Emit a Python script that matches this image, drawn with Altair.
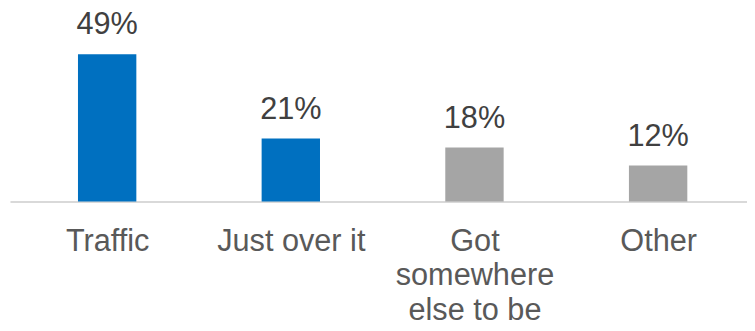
import json
import altair as alt
import pandas as pd

categories = ["Traffic", "Just over it", "Got\nsomewhere\nelse to be", "Other"]
values = [0.49, 0.21, 0.18, 0.12]
labels = ["49%", "21%", "18%", "12%"]
colors = ["#0070C0", "#0070C0", "#A5A5A5", "#A5A5A5"]

df = pd.DataFrame({"idx": list(range(len(categories))), "cat": categories,
                   "val": values, "lab": labels, "col": colors})

label_expr = "split(" + json.dumps(categories) + "[round(datum.value)], '\\n')"

x = alt.X("idx:Q",
          scale=alt.Scale(domain=[-0.5022, 3.457], nice=False, zero=False),
          axis=alt.Axis(title=None, values=list(range(len(categories))), labelAngle=0,
                        ticks=False, grid=False, domainColor="#D9D9D9",
                        domainWidth=2, labelFont="Liberation Sans", labelFontSize=31,
                        labelColor="#595959", labelPadding=25, labelLineHeight=35,
                        labelFlush=False, labelOverlap=False, labelBound=False,
                        labelExpr=label_expr))
y = alt.Y("val:Q", scale=alt.Scale(domain=[0, 0.6316]), axis=None)

bars = alt.Chart(df).mark_bar(size=59).encode(x=x, y=y, color=alt.Color("col:N", scale=None))
text = alt.Chart(df).mark_text(dy=-20, baseline="alphabetic", font="Liberation Sans",
                               fontSize=31, color="#404040").encode(x=x, y=y, text="lab:N")

chart = (bars + text).properties(
    width=745, height=192,
    autosize=alt.AutoSizeParams(type="none"),
    padding={"left": 2, "top": 2, "right": 0, "bottom": 121},
).configure_view(stroke=None)

chart.save("out.html", embed_options={"renderer": "svg", "actions": False})
